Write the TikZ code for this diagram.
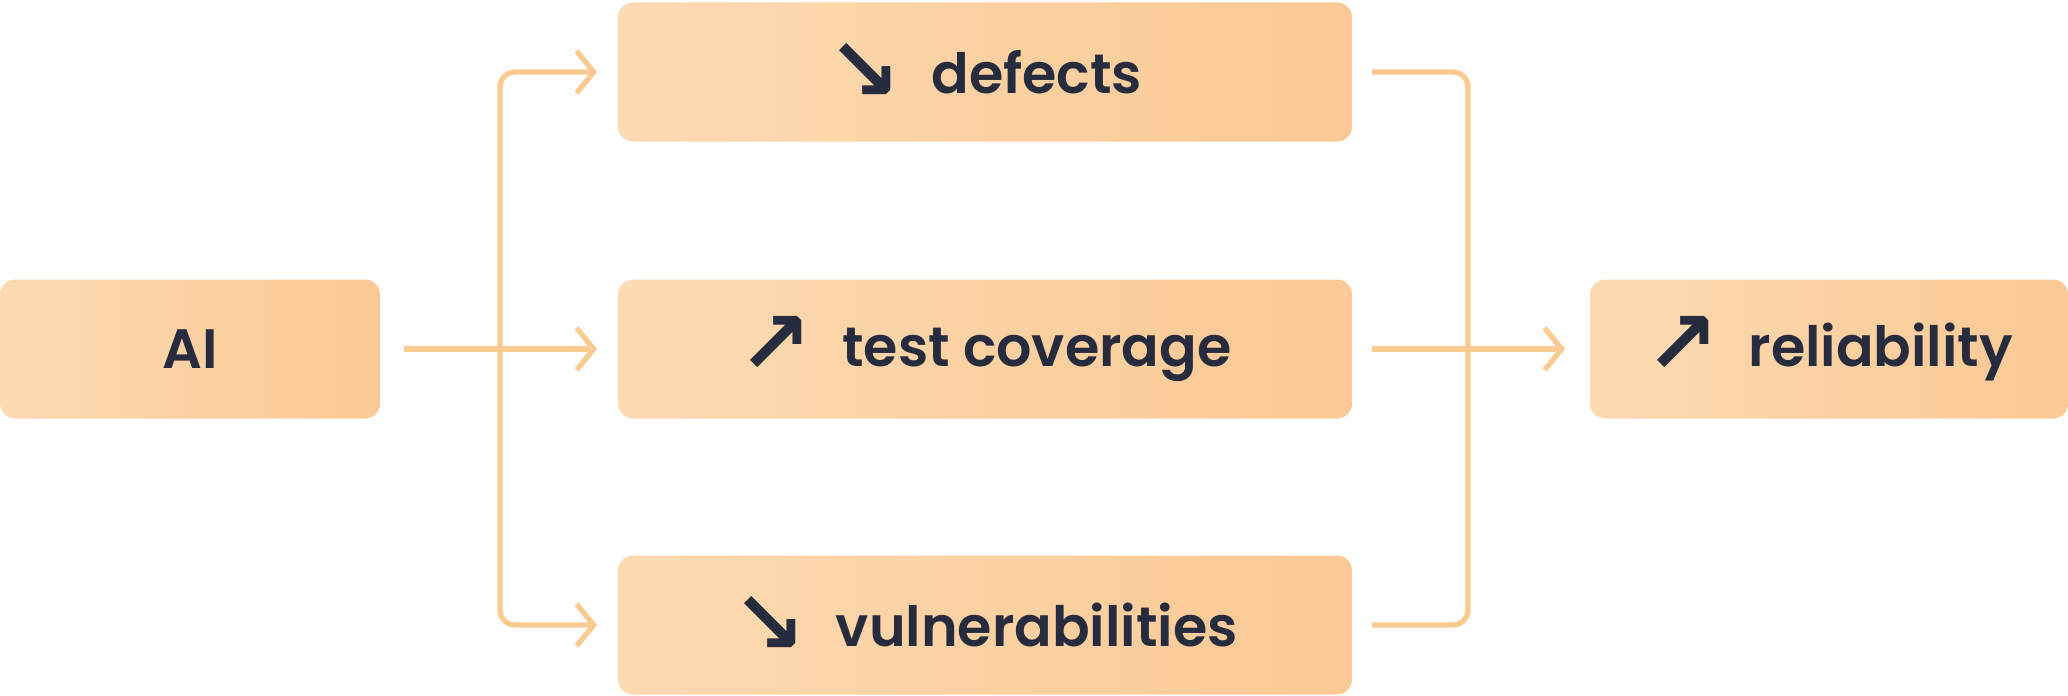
\documentclass[tikz,border=0pt]{standalone}
\usepackage{fontspec}
\setmainfont{Poppins}[BoldFont={Poppins SemiBold}]
\newfontfamily\iconfont{DejaVu Sans}
\usetikzlibrary{arrows.meta,positioning}

\definecolor{peachlight}{RGB}{252,218,178}
\definecolor{peachdark}{RGB}{251,201,148}
\definecolor{flowline}{RGB}{249,203,145}
\definecolor{inktext}{RGB}{38,43,61}

\newcommand{\downicon}{{\iconfont\fontsize{25pt}{25pt}\selectfont\raisebox{-0.08em}{↘}}\hspace{0.3cm}}
\newcommand{\upicon}{{\iconfont\fontsize{25pt}{25pt}\selectfont\raisebox{-0.08em}{↗}}\hspace{0.3cm}}

\begin{document}
\begin{tikzpicture}[
    % Block styles
    stepbox/.style={
        rectangle,
        left color=peachlight,
        right color=peachdark,
        draw=none,
        rounded corners=0.15cm,
        minimum height=1.39cm,
        minimum width=7.34cm,
        inner sep=0pt,
        outer sep=0pt,
        text=inktext,
        font=\fontsize{15.8pt}{18pt}\selectfont\bfseries,
        align=center
    },
    endbox/.style={stepbox, minimum width=3.80cm},
    resultbox/.style={stepbox, minimum width=4.78cm},
    link/.style={draw=flowline, line width=1.5pt, rounded corners=0.15cm},
    flow/.style={link, -{Straight Barb[length=0.17cm, width=0.42cm, line width=1.5pt]}, shorten >=0.21cm}
]
\useasboundingbox (0,0) rectangle (20.68,6.95);

% Source
\node[endbox] (ai) at (1.90,3.46) {AI};

% Effects
\node[stepbox] (defects) at (9.85,6.23) {\downicon defects};
\node[stepbox] (coverage) at (9.85,3.46) {\upicon test coverage};
\node[stepbox] (vuln) at (9.85,0.70) {\downicon vulnerabilities};

% Result
\node[resultbox] (reliability) at (18.29,3.46) {\upicon reliability};

% Split and merge points
\coordinate[right=1.20cm of ai.east] (lsplit);
\coordinate[right=1.16cm of defects.east] (rtop);
\coordinate[right=1.16cm of vuln.east] (rbot);

% Connections
\draw[flow, shorten <=0.24cm] (ai.east) -- (coverage.west);
\draw[flow] (lsplit) |- (defects.west);
\draw[flow] (lsplit) |- (vuln.west);
\draw[link, shorten <=0.2cm, shorten >=0.2cm] (defects.east) -- (rtop) -- (rbot) -- (vuln.east);
\draw[flow, shorten <=0.2cm, shorten >=0.25cm] (coverage.east) -- (reliability.west);

\end{tikzpicture}
\end{document}
